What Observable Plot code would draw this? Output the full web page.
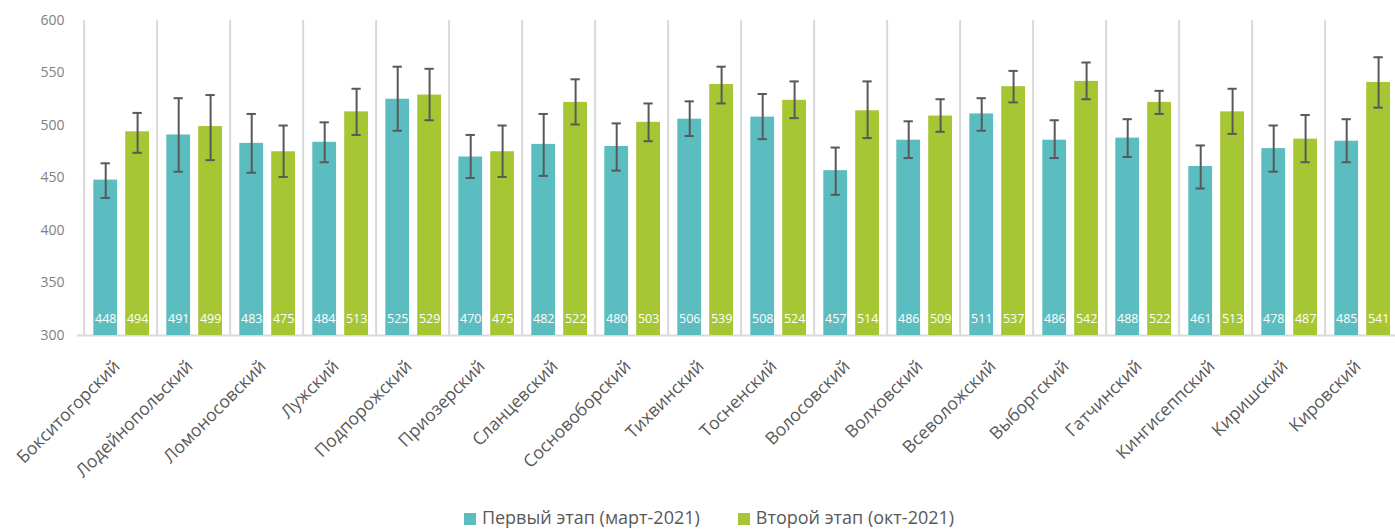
<!DOCTYPE html>
<html>
<head>
<meta charset="utf-8">
<script src="https://cdn.jsdelivr.net/npm/d3@7"></script>
<script src="https://cdn.jsdelivr.net/npm/@observablehq/plot@0.6"></script>
<style>
  html, body { margin: 0; padding: 0; background: #fff; overflow: hidden; }
  #chart { width: 1410px; }
  .legend { width: 1410px; box-sizing: border-box; padding-left: 8px; display: flex; justify-content: center; gap: 38px; padding-top: 10px;
            font-family: "Open Sans", sans-serif; font-size: 18px; color: #595959; line-height: 30px; }
  .legend span.sw { display: inline-block; width: 12px; height: 12px; margin-right: 6px; vertical-align: -1px; }
</style>
</head>
<body>
<div id="chart"></div>
<script>
const districts = ["Бокситогорский","Лодейнопольский","Ломоносовский","Лужский","Подпорожский","Приозерский","Сланцевский","Сосновоборский","Тихвинский","Тосненский","Волосовский","Волховский","Всеволожский","Выборгский","Гатчинский","Кингисеппский","Киришский","Кировский"];
const seriesNames = ["Первый этап (март-2021)", "Второй этап (окт-2021)"];
const stage1 = [448,491,483,484,525,470,482,480,506,508,457,486,511,486,488,461,478,485];
const stage2 = [494,499,475,513,529,475,522,503,539,524,514,509,537,542,522,513,487,541];
const stage1Low  = [431,456,455,465,495,450,452,457,490,487,434,469,495,469,470,440,456,465];
const stage1High = [464,526,511,503,556,491,511,502,523,530,479,504,526,505,506,481,500,506];
const stage2Low  = [474,467,451,491,505,451,501,485,521,507,488,494,522,525,511,492,465,517];
const stage2High = [512,529,500,535,554,500,544,521,556,542,542,525,552,560,533,535,510,565];
const yTicks = [300,350,400,450,500,550,600];
const colors = ["#5bbdc0", "#a6c733"];

const W = 1410, ML = 77, MR = 6;
const step = (W - ML - MR) / districts.length;
const bw = 24.5;
const offsets = [-15.3, 16.6];
const cap = 10;

const rows = [];
districts.forEach((d, i) => {
  rows.push({district: d, s: 0, v: stage1[i], lo: stage1Low[i], hi: stage1High[i]});
  rows.push({district: d, s: 1, v: stage2[i], lo: stage2Low[i], hi: stage2High[i]});
});

const marks = [];
marks.push(Plot.ruleX(districts, {x: d => d, dx: -step / 2, y1: 300, y2: 600, stroke: "#d9d9d9", strokeWidth: 2}));
marks.push(Plot.ruleX([districts[districts.length - 1]], {x: d => d, dx: step / 2, y1: 300, y2: 600, stroke: "#d9d9d9", strokeWidth: 2}));
marks.push(Plot.ruleY([300], {stroke: "#d9d9d9", strokeWidth: 2}));

[0, 1].forEach(s => {
  const data = rows.filter(r => r.s === s);
  const off = offsets[s];
  const inL = step / 2 + off - bw / 2;
  const inR = step / 2 - off - bw / 2;
  marks.push(Plot.barY(data, {x: "district", y1: 300, y2: "v", fill: colors[s], insetLeft: inL, insetRight: inR}));
  marks.push(Plot.ruleX(data, {x: "district", y1: "lo", y2: "hi", dx: off, stroke: "#595959", strokeWidth: 2}));
  const cL = step / 2 + off - cap / 2;
  const cR = step / 2 - off - cap / 2;
  marks.push(Plot.tickY(data, {x: "district", y: "lo", insetLeft: cL, insetRight: cR, stroke: "#595959", strokeWidth: 2}));
  marks.push(Plot.tickY(data, {x: "district", y: "hi", insetLeft: cL, insetRight: cR, stroke: "#595959", strokeWidth: 2}));
  marks.push(Plot.text(data, {x: "district", y: 300, text: d => String(d.v), dx: off, dy: -17, fill: "#ffffff", fontSize: 12.5}));
});

const chart = Plot.plot({
  width: W,
  height: 492,
  marginLeft: ML,
  marginRight: MR,
  marginTop: 20,
  marginBottom: 157,
  style: {fontFamily: "'Open Sans', sans-serif", background: "#fff"},
  x: {domain: districts, padding: 0, tickSize: 0, tickRotate: -45, tickPadding: 28, label: null, fontSize: 17.5},
  y: {domain: [300, 600], ticks: yTicks, tickSize: 0, tickPadding: 13, label: null, tickFormat: d => String(d)},
  marks: marks
});
const sel = d3.select(chart);
sel.selectAll("g[aria-label='x-axis'] text, g[aria-label='x-axis tick label'] text").style("font-size", "17.5px").attr("fill", "#595959");
sel.selectAll("g[aria-label='x-axis'], g[aria-label='x-axis tick label']").each(function() {
  const t = this.getAttribute("transform") || "";
  this.setAttribute("transform", "translate(-4,0) " + t);
});
sel.selectAll("g[aria-label='y-axis'] text, g[aria-label='y-axis tick label'] text").style("font-size", "14px").attr("fill", "#7f7f7f");
document.getElementById("chart").appendChild(chart);

const legend = document.createElement("div");
legend.className = "legend";
seriesNames.forEach((n, i) => {
  const item = document.createElement("div");
  const sw = document.createElement("span");
  sw.className = "sw";
  sw.style.background = colors[i];
  item.appendChild(sw);
  item.appendChild(document.createTextNode(n));
  legend.appendChild(item);
});
document.body.appendChild(legend);
</script>
</body>
</html>
